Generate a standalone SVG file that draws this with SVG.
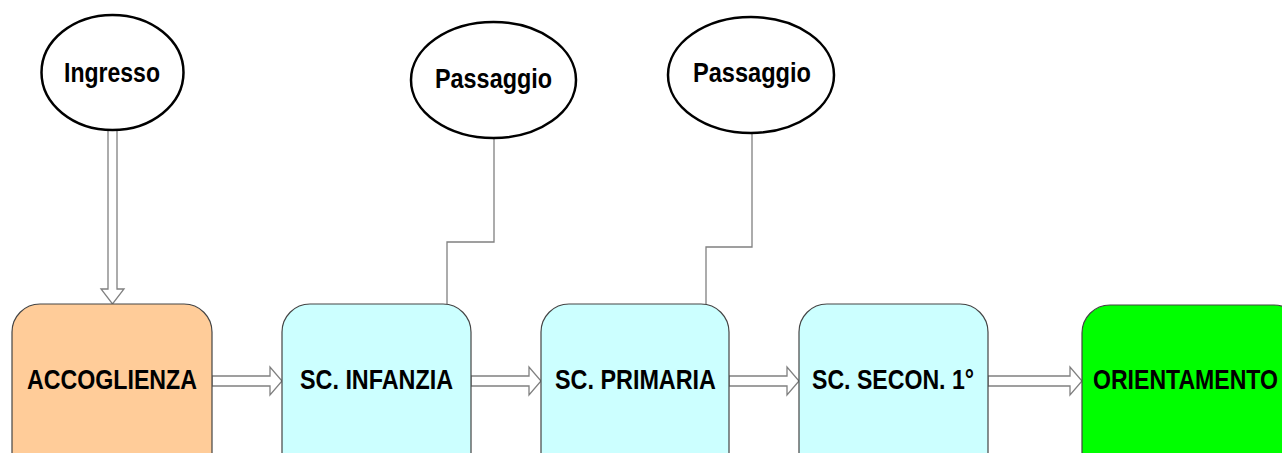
<svg xmlns="http://www.w3.org/2000/svg" width="1282" height="453" viewBox="0 0 1282 453">
<style>
.ell{fill:#fff;stroke:#000;stroke-width:2.5}
.box{stroke:#444;stroke-width:1.2}
.t{font-family:"Liberation Sans",Arial,sans-serif;font-weight:bold;font-size:28px;fill:#000}
.arr{fill:#fff;stroke:#808080;stroke-width:1.3}
.ln{fill:none;stroke:#808080;stroke-width:1.3}
</style>
<rect width="1282" height="453" fill="#fff"/>
<g id="connectors">
<path class="arr" d="M108,130 L117,130 L117,289 L124,289 L112.5,304 L101,289 L108,289 Z"/>
<path class="ln" d="M494,138 L494,242 L447,242 L447,304"/>
<path class="ln" d="M752,133 L752,247 L706,247 L706,304"/>
<path class="arr" d="M212,376 L270,376 L270,367 L282,381 L270,395 L270,386 L212,386 Z"/>
<path class="arr" d="M471,376 L529,376 L529,367 L541,381 L529,395 L529,386 L471,386 Z"/>
<path class="arr" d="M729,376 L787,376 L787,367 L799,381 L787,395 L787,386 L729,386 Z"/>
<path class="arr" d="M988,376 L1070,376 L1070,367 L1082,381 L1070,395 L1070,386 L988,386 Z"/>
</g>
<g id="ingresso">
<ellipse class="ell" cx="112.5" cy="72.5" rx="71" ry="57.5"/>
<text class="t" x="64" y="82" textLength="96" lengthAdjust="spacingAndGlyphs">Ingresso</text>
</g>
<g id="passaggio1">
<ellipse class="ell" cx="493.5" cy="80" rx="82.5" ry="58"/>
<text class="t" x="435" y="88" textLength="117" lengthAdjust="spacingAndGlyphs">Passaggio</text>
</g>
<g id="passaggio2">
<ellipse class="ell" cx="751" cy="75" rx="83" ry="58"/>
<text class="t" x="693" y="82" textLength="118" lengthAdjust="spacingAndGlyphs">Passaggio</text>
</g>
<g id="accoglienza">
<rect class="box" x="12" y="304" width="200" height="180" rx="28" fill="#FFCC99"/>
<text class="t" x="27" y="389" textLength="170" lengthAdjust="spacingAndGlyphs">ACCOGLIENZA</text>
</g>
<g id="infanzia">
<rect class="box" x="282" y="304" width="189" height="180" rx="28" fill="#CCFFFF"/>
<text class="t" x="300" y="389" textLength="153" lengthAdjust="spacingAndGlyphs">SC. INFANZIA</text>
</g>
<g id="primaria">
<rect class="box" x="541" y="304" width="188" height="180" rx="28" fill="#CCFFFF"/>
<text class="t" x="555" y="389" textLength="161" lengthAdjust="spacingAndGlyphs">SC. PRIMARIA</text>
</g>
<g id="secondaria">
<rect class="box" x="799" y="304" width="189" height="180" rx="28" fill="#CCFFFF"/>
<text class="t" x="812" y="389" textLength="162" lengthAdjust="spacingAndGlyphs">SC. SECON. 1°</text>
</g>
<g id="orientamento">
<rect class="box" x="1082" y="305" width="220" height="180" rx="28" fill="#00FF00"/>
<text class="t" x="1093" y="389" textLength="185" lengthAdjust="spacingAndGlyphs">ORIENTAMENTO</text>
</g>
</svg>
